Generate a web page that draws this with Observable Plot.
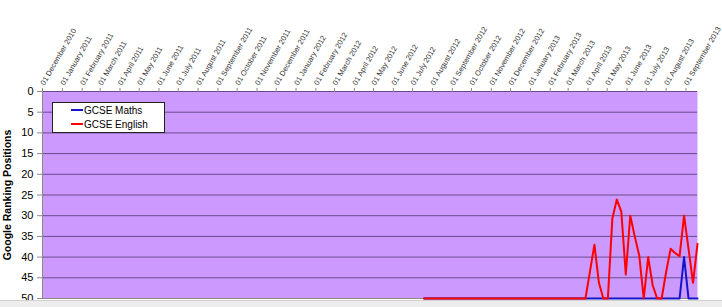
<!DOCTYPE html>
<html><head><meta charset="utf-8">
<script src="https://cdn.jsdelivr.net/npm/d3@7"></script>
<script src="https://cdn.jsdelivr.net/npm/@observablehq/plot@0.6"></script>
<style>
body{margin:0;background:#fff;font-family:"Liberation Sans",Arial,sans-serif;}
#wrap{position:relative;width:722px;height:307px;overflow:hidden;}
#legend{position:absolute;left:52px;top:102px;width:113px;height:31px;background:#fff;border:1px solid #222;box-sizing:border-box;font-size:10px;color:#000;}
.item{position:absolute;left:18px;height:12px;line-height:12px;}
.sw{display:inline-block;width:12px;height:0;border-top:2px solid;vertical-align:middle;margin-right:1px;position:relative;top:-1px;}
#strip{position:absolute;left:0;top:300px;width:722px;height:7px;background:#ededed;border-top:1px solid #d0d0d0;}
</style></head>
<body>
<div id="wrap">
  <div id="chart"></div>
  <div id="legend"></div>
  <div id="strip"></div>
</div>
<script>
// Month tick labels (top axis)
const tickLabels = ["01 December 2010","01 January 2011","01 February 2011","01 March 2011","01 April 2011","01 May 2011","01 June 2011","01 July 2011","01 August 2011","01 September 2011","01 October 2011","01 November 2011","01 December 2011","01 January 2012","01 February 2012","01 March 2012","01 April 2012","01 May 2012","01 June 2012","01 July 2012","01 August 2012","01 September 2012","01 October 2012","01 November 2012","01 December 2012","01 January 2013","01 February 2013","01 March 2013","01 April 2013","01 May 2013","01 June 2013","01 July 2013","01 August 2013","01 September 2013"];
const yTicks = [0,5,10,15,20,25,30,35,40,45,50];
const xStartLabel = "2010-12-01";
const xEndLabel = "2013-09-19";

// Weekly observation dates
const dates = ["2012-07-19","2013-03-28","2013-04-04","2013-04-11","2013-04-18","2013-04-25","2013-05-02","2013-05-09","2013-05-16","2013-05-23","2013-05-30","2013-06-06","2013-06-13","2013-06-20","2013-06-27","2013-07-04","2013-07-11","2013-07-18","2013-07-25","2013-08-01","2013-08-08","2013-08-15","2013-08-22","2013-08-29","2013-09-05","2013-09-12","2013-09-19"];
const mathsRank   = [50,50,50,50,50,50,50,50,50,50,50,50,50,50,50,50,50,50,50,50,50,50,50,40,50,50,50];
const englishRank = [50,50,43.5,37,46.2,50,50,30.7,26.1,29,44.2,30,35,39.6,50,40,46.8,50,50,43.6,38,39,39.8,30,38,46.2,36.8];

const seriesNames = ["GCSE Maths","GCSE English"];
const seriesColors = ["#1414c8","#ff0000"];

const parseLabel = d3.utcParse("%d %B %Y");
const parseISO = d3.utcParse("%Y-%m-%d");
const tickDates = tickLabels.map(parseLabel);
const labelByTime = new Map(tickDates.map((d,i)=>[+d, tickLabels[i]]));
const xStart = parseISO(xStartLabel), xEnd = parseISO(xEndLabel);

const maths = dates.map((d,i)=>({date:parseISO(d), rank:mathsRank[i]}));
const english = dates.map((d,i)=>({date:parseISO(d), rank:englishRank[i]}));

const chart = Plot.plot({
  width:722, height:300,
  marginLeft:42, marginRight:25, marginTop:91, marginBottom:2,
  style:{fontFamily:"'Liberation Sans', Arial, sans-serif", background:"transparent", overflow:"visible", color:"#000"},
  x:{type:"utc", domain:[xStart, xEnd]},
  y:{domain:[0,50], reverse:true},
  marks:[
    Plot.frame({fill:"#cc99ff", stroke:null}),
    Plot.gridY(yTicks, {stroke:"#6a4a8a", strokeOpacity:1, strokeWidth:1}),
    Plot.ruleX([xStart], {stroke:"#8a8a8a"}),
    Plot.ruleY([50], {stroke:"#8a8a8a"}),
    Plot.axisY(yTicks, {anchor:"left", tickSize:5, tickPadding:4, fontSize:11, stroke:"#8a8a8a", fill:"#000", label:null}),
    Plot.axisX(tickDates, {anchor:"top", tickSize:4, tickPadding:3, tickRotate:-60, fontSize:7.5, stroke:"#8a8a8a", fill:"#333", label:null, tickFormat:d=>labelByTime.get(+d)}),
    Plot.line(maths, {x:"date", y:"rank", stroke:seriesColors[0], strokeWidth:2}),
    Plot.line(english, {x:"date", y:"rank", stroke:seriesColors[1], strokeWidth:2}),
    Plot.text(["Google Ranking Positions"], {frameAnchor:"left", textAnchor:"middle", dx:-35, rotate:-90, fontWeight:"bold", fontSize:10.5, fill:"#000"})
  ]
});
document.getElementById("chart").appendChild(chart);

const legend = document.getElementById("legend");
seriesNames.forEach((name,i)=>{
  const it = document.createElement("div");
  it.className = "item";
  it.style.top = (i===0 ? 1.5 : 16) + "px";
  it.innerHTML = `<span class="sw" style="border-color:${seriesColors[i]}"></span>${name}`;
  legend.appendChild(it);
});
</script>
</body></html>
